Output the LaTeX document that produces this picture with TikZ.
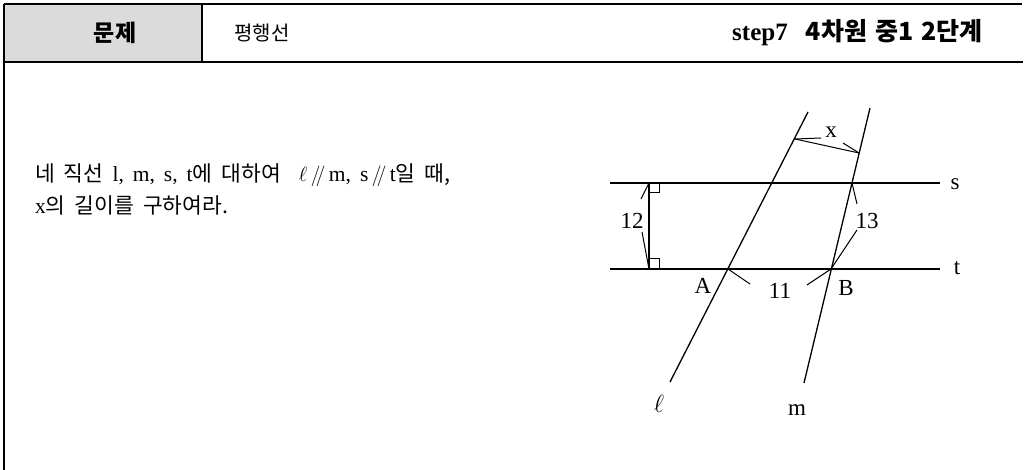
\documentclass[tikz,border=0pt]{standalone}
\usepackage{fontspec}
\setmainfont{Liberation Serif}
\newfontfamily\kr{Noto Sans CJK KR}
\newcommand{\para}{\ensuremath{\mathbin{/\mkern-4mu/}}}
\newcommand{\widesp}{\spaceskip=9pt plus 2pt\relax}
\begin{document}
\begin{tikzpicture}[x=1pt,y=-1pt,
  frame/.style={line width=1.8pt},
  geo/.style={line width=1.3pt},
  lead/.style={line width=1pt},
  lbl/.style={font=\fontsize{23}{23}\selectfont, inner sep=1pt},
  body/.style={font=\fontsize{21.5}{30}\selectfont, anchor=west, inner sep=0pt}]
\useasboundingbox (0,0) rectangle (1025,470);
% header
\fill[gray!28] (4,4) rectangle (202,62);
\draw[frame] (4,4) -- (1022,4);
\draw[frame] (4,62) -- (1023,62);
\draw[frame] (4,4) -- (4,470);
\draw[line width=1.2pt] (202,4) -- (202,62);
\node[font=\fontsize{23}{23}\selectfont\kr\bfseries] (title) at (115,33) {문제};
\node[font=\fontsize{20}{20}\selectfont\kr, anchor=west] (topic) at (231,33) {평행선};
\node[font=\fontsize{25}{25}\selectfont\bfseries, anchor=east] (level) at (986,33) {step7\hspace{18pt}{\kr 4차원\hspace{8pt}중1\hspace{8pt}2단계}};
% problem text
\node[body] (line1) at (35,175) {\widesp{\kr 네 직선} l, m, s, t{\kr 에 대하여} \ $\ell$\,\para\,m, s\,\para\,t{\kr 일 때,}};
\node[body] (line2) at (35,205) {\widesp x{\kr 의 길이를 구하여라.}};
% geometry
\coordinate (S1) at (610,183); \coordinate (S2) at (940,183);
\coordinate (T1) at (610,269); \coordinate (T2) at (940,269);
\coordinate (P1) at (649,183); \coordinate (P2) at (649,269);
\coordinate (A) at (728,269); \coordinate (L1) at (808,112); \coordinate (L2) at (670,382);
\coordinate (B) at (831,269); \coordinate (M1) at (870,108); \coordinate (M2) at (804,383);
\coordinate (X1) at (795,139); \coordinate (X2) at (859,153);
\coordinate (SM) at (852,183);
\draw[geo] (S1) -- (S2);
\draw[geo] (T1) -- (T2);
\draw[geo] (P1) -- (P2);
\draw[lead] (P1) ++(0,10) -| ++(10,-10);
\draw[lead] (P2) ++(0,-10) -| ++(10,10);
\draw[geo] (L1) -- (L2);
\draw[geo] (M1) -- (M2);
\draw[lead] (X1) -- (X2);
% labels
\node[lbl] (ls) at (955,184) {s};
\node[lbl] (lt) at (957,268) {t};
\node[lbl] (lA) at (703,286) {A};
\node[lbl] (lB) at (846,288) {B};
\node[lbl] (lell) at (659,404) {$\ell$};
\node[lbl] (lm) at (797,410) {m};
\node[lbl] (l12) at (632,221) {12};
\node[lbl] (l13) at (867,221) {13};
\node[lbl] (l11) at (780,291) {11};
\node[lbl] (lx) at (831,132) {x};
% leaders
\draw[lead] (641,199) -- (P1);
\draw[lead] (642,232) -- (P2);
\draw[lead] (SM) -- (857,204);
\draw[lead] (857,230) -- (B);
\draw[lead] (A) -- (750,284);
\draw[lead] (807,285) -- (B);
\draw[lead] (X1) -- (821,138);
\draw[lead] (843,143) -- (X2);
\end{tikzpicture}
\end{document}
